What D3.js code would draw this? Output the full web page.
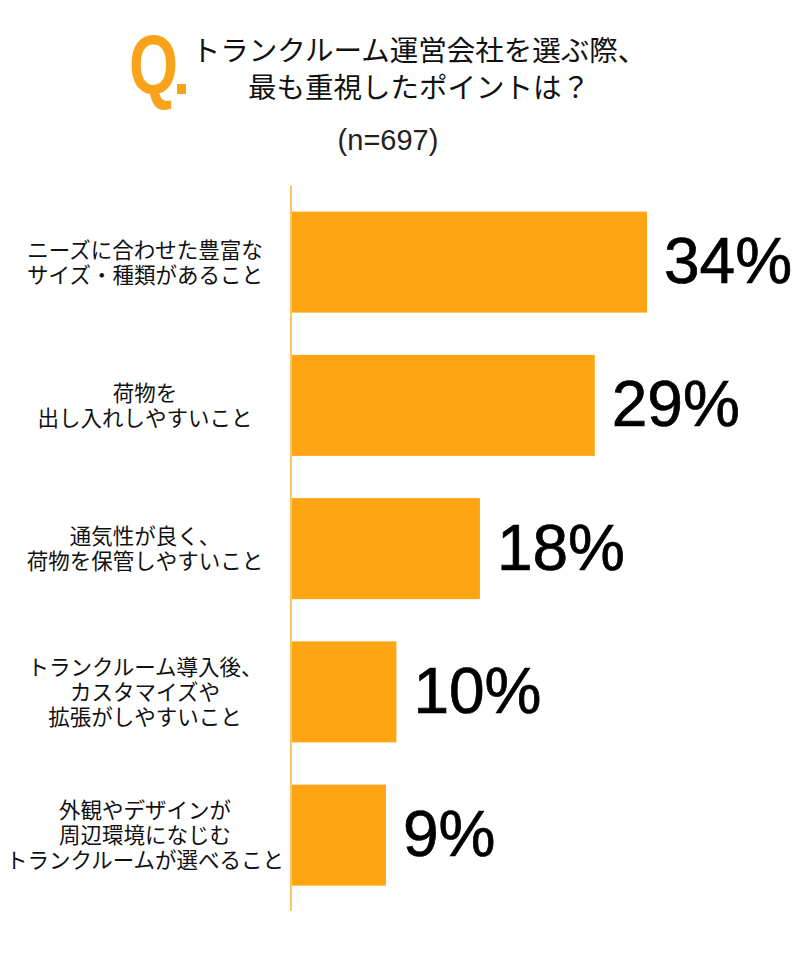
<!DOCTYPE html>
<html>
<head>
<meta charset="utf-8">
<script src="https://cdn.jsdelivr.net/npm/d3@7"></script>
<style>
  body { margin: 0; background: #fff; }
  svg { display: block; }
</style>
</head>
<body>
<div class="chart"></div>
<script>
const titleLines = ["トランクルーム運営会社を選ぶ際、", "最も重視したポイントは？"]
const sampleNote = "(n=697)"
const categories = [
    ["ニーズに合わせた豊富な", "サイズ・種類があること"],
    ["荷物を", "出し入れしやすいこと"],
    ["通気性が良く、", "荷物を保管しやすいこと"],
    ["トランクルーム導入後、", "カスタマイズや", "拡張がしやすいこと"],
    ["外観やデザインが", "周辺環境になじむ", "トランクルームが選べること"]
]
const values = [34, 29, 18, 10, 9]

const width = 800
const height = 973
const orange = "#FFA412"

const svg = d3.select(".chart").append("svg")
    .attr("width", width)
    .attr("height", height)

const xScale = d3.scaleLinear()
    .domain([0, 100])
    .range([292, 1336])

const yScale = d3.scaleBand()
    .domain(d3.range(values.length))
    .range([190.5, 906.75])
    .paddingInner(0.295)
    .paddingOuter(0.1475)

// title: big orange "Q" + square dot
svg.append("text")
    .attr("transform", "translate(129,94) scale(0.75,1)")
    .attr("font-family", "Liberation Sans, Arial, sans-serif")
    .attr("font-weight", "bold")
    .attr("font-size", 84)
    .attr("fill", "#F9A31A")
    .text("Q")

svg.append("rect")
    .attr("x", 177)
    .attr("y", 84)
    .attr("width", 9)
    .attr("height", 10)
    .attr("fill", "#F9A31A")

svg.append("g")
    .selectAll("text")
    .data(titleLines)
    .join("text")
    .attr("x", 419)
    .attr("y", (d, i) => 61 + i * 37)
    .attr("text-anchor", "middle")
    .attr("font-family", "Noto Sans CJK JP, sans-serif")
    .attr("font-size", 28.5)
    .attr("fill", "#111")
    .text(d => d)

svg.append("text")
    .attr("x", 388)
    .attr("y", 150)
    .attr("text-anchor", "middle")
    .attr("font-family", "Liberation Sans, Arial, sans-serif")
    .attr("font-size", 29)
    .attr("fill", "#222")
    .text(sampleNote)

// bars
svg.append("g")
    .selectAll("rect")
    .data(values)
    .join("rect")
    .attr("x", xScale(0))
    .attr("y", (d, i) => yScale(i))
    .attr("width", d => xScale(d) - xScale(0))
    .attr("height", yScale.bandwidth())
    .attr("fill", orange)

// axis line
svg.append("line")
    .attr("x1", xScale(0) - 1)
    .attr("x2", xScale(0) - 1)
    .attr("y1", yScale.range()[0] - 5)
    .attr("y2", yScale.range()[1] + 4)
    .attr("stroke", "#FFC466")
    .attr("stroke-width", 2)

// value labels
svg.append("g")
    .selectAll("text")
    .data(values)
    .join("text")
    .attr("x", d => xScale(d) + 17)
    .attr("y", (d, i) => yScale(i) + yScale.bandwidth() / 2 + 21)
    .attr("font-family", "Liberation Sans, Arial, sans-serif")
    .attr("font-size", 64)
    .attr("fill", "#000")
    .attr("stroke", "#000")
    .attr("stroke-width", 0.7)
    .text(d => d + "%")

// category labels
const lineH = 25
const labels = svg.append("g")
    .selectAll("text")
    .data(categories)
    .join("text")
    .attr("text-anchor", "middle")
    .attr("font-family", "Noto Sans CJK JP, sans-serif")
    .attr("font-size", 21.5)
    .attr("fill", "#111")

labels.each(function (lines, i) {
    const cy = yScale(i) + yScale.bandwidth() / 2
    const top = cy - (lines.length - 1) * lineH / 2 + 8
    d3.select(this).selectAll("tspan")
        .data(lines)
        .join("tspan")
        .attr("x", 145)
        .attr("y", (d, j) => top + j * lineH)
        .text(d => d)
})
</script>
</body>
</html>
